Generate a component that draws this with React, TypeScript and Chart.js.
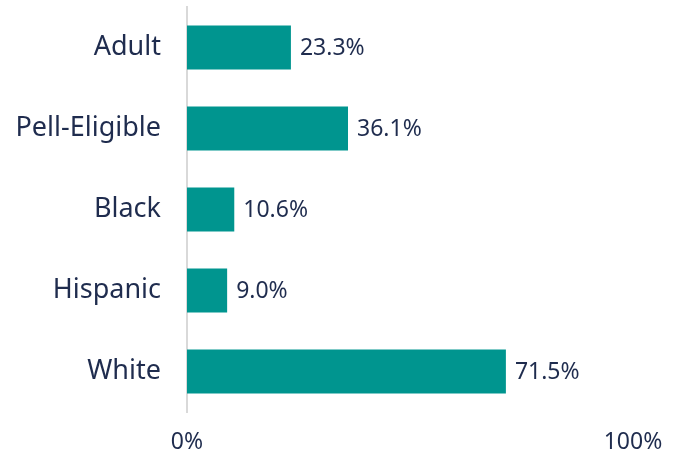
import React, { useEffect, useRef } from "react";
import { Chart, registerables } from "chart.js";

Chart.register(...registerables);

const categories = ["Adult", "Pell-Eligible", "Black", "Hispanic", "White"];
const values = [23.3, 36.1, 10.6, 9.0, 71.5];
const xTickValues = [0, 100];

const BAR_COLOR = "#00958F";
const TEXT_COLOR = "#1F2C4E";
const FONT_FAMILY = "'Noto Sans', Lato, sans-serif";

const valueLabelPlugin = {
  id: "valueLabels",
  afterDatasetsDraw(chart: any) {
    const ctx = chart.ctx;
    const meta = chart.getDatasetMeta(0);
    ctx.save();
    ctx.fillStyle = TEXT_COLOR;
    ctx.font = `23px ${FONT_FAMILY}`;
    ctx.textAlign = "left";
    ctx.textBaseline = "middle";
    meta.data.forEach((bar: any, i: number) => {
      const v = values[i];
      ctx.fillText(`${v.toFixed(1)}%`, bar.x + 9, bar.y + 1);
    });
    ctx.restore();
  },
};

export default function App() {
  const canvasRef = useRef<HTMLCanvasElement | null>(null);

  useEffect(() => {
    document.body.style.margin = "0";
    const canvas = canvasRef.current;
    if (!canvas) return;
    const chart = new Chart(canvas, {
      type: "bar",
      data: {
        labels: categories,
        datasets: [
          {
            data: values,
            backgroundColor: BAR_COLOR,
            borderWidth: 0,
            categoryPercentage: 1,
            barPercentage: 0.545,
          },
        ],
      },
      options: {
        indexAxis: "y",
        animation: false,
        responsive: false,
        maintainAspectRatio: false,
        layout: { padding: { top: 7, right: 51, bottom: 4, left: 0 } },
        plugins: {
          legend: { display: false },
          tooltip: { enabled: false },
        },
        scales: {
          x: {
            min: 0,
            max: 100,
            afterBuildTicks: (scale: any) => {
              scale.ticks = xTickValues.map((v) => ({ value: v }));
            },
            afterFit: (scale: any) => {
              scale.height = 46;
              scale.paddingLeft = 0;
              scale.paddingRight = 0;
            },
            grid: { display: false, drawTicks: false },
            border: { display: false },
            ticks: {
              color: TEXT_COLOR,
              font: { family: FONT_FAMILY, size: 23 },
              padding: 17,
              maxRotation: 0,
              callback: (v: any) => `${v}%`,
            },
          },
          y: {
            grid: { display: false, drawTicks: false },
            border: { display: true, color: "#D9D9D9", width: 2 },
            afterFit: (scale: any) => {
              scale.width = 187;
              scale.paddingTop = 0;
              scale.paddingBottom = 0;
            },
            ticks: {
              color: TEXT_COLOR,
              font: { family: FONT_FAMILY, size: 27 },
              padding: 26,
            },
          },
        },
      },
      plugins: [valueLabelPlugin],
    });
    return () => chart.destroy();
  }, []);

  return (
    <div style={{ width: 684, height: 462, background: "#fff" }}>
      <canvas ref={canvasRef} width={684} height={462} />
    </div>
  );
}
